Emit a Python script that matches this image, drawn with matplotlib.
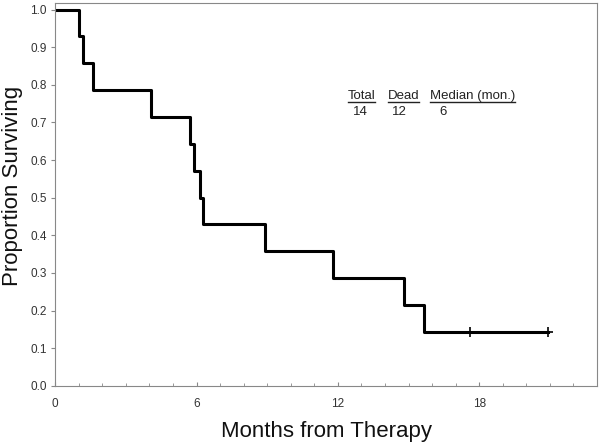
import matplotlib
matplotlib.use("Agg")
import matplotlib.pyplot as plt
from matplotlib.ticker import MultipleLocator
from matplotlib.lines import Line2D

plt.rcParams['font.family'] = ['Liberation Sans', 'DejaVu Sans']

# Kaplan-Meier step data (months, proportion surviving)
event_times = [0, 1.0, 1.2, 1.6, 4.05, 5.72, 5.88, 6.15, 6.27, 8.9, 11.8, 14.8, 15.65, 20.9]
survival = [1.0, 0.929, 0.857, 0.786, 0.714, 0.643, 0.571, 0.5, 0.429, 0.357, 0.286, 0.214, 0.143, 0.143]
censor_times = [17.6, 20.9]
censor_surv = [0.143, 0.143]

x_ticks = [0, 6, 12, 18]
y_ticks = [0.0, 0.1, 0.2, 0.3, 0.4, 0.5, 0.6, 0.7, 0.8, 0.9, 1.0]

stat_headers = ["Total", "Dead", "Median (mon.)"]
stat_values = ["14", "12", "6"]

fig = plt.figure(figsize=(6, 4.44), dpi=100)
ax = fig.add_axes([0.092, 0.131, 0.903, 0.862])

ax.step(event_times, survival, where='post', color='black', lw=2.2)
ax.plot(censor_times, censor_surv, linestyle='none', marker='+', color='black',
        markersize=7, mew=1.2)

ax.set_xlim(0, 23)
ax.set_ylim(0, 1.017)
ax.set_xticks(x_ticks)
ax.set_xticklabels([str(t) for t in x_ticks])
ax.xaxis.set_minor_locator(MultipleLocator(1))
ax.set_yticks(y_ticks)
ax.set_yticklabels([f"{v:.1f}" for v in y_ticks])

for s in ax.spines.values():
    s.set_color('#888888')
    s.set_linewidth(0.8)

ax.tick_params(axis='x', which='both', direction='in', length=3, color='#888888',
               labelsize=8.5, labelcolor='#333333', pad=9)
ax.tick_params(axis='x', which='minor', length=2)
ax.tick_params(axis='y', direction='out', length=3, color='#888888',
               labelsize=8.5, labelcolor='#333333', pad=3)

ax.set_ylabel("Proportion Surviving", fontsize=16, color='#111111')
ax.yaxis.set_label_coords(-0.059, 0.522)
ax.set_xlabel("Months from Therapy", fontsize=16, color='#111111')
ax.xaxis.set_label_coords(0.5, -0.092)

# stats table
hdr_x = [0.5795, 0.646, 0.7167]
val_x = [0.588, 0.653, 0.732]
hdr_y = 0.777
val_y = 0.741
fig.canvas.draw()
renderer = fig.canvas.get_renderer()
for hx, h in zip(hdr_x, stat_headers):
    t = fig.text(hx, hdr_y, h, fontsize=9.5, color='#222222', ha='left', va='baseline')
    bb = t.get_window_extent(renderer=renderer)
    x0, x1 = bb.x0 / fig.bbox.width, bb.x1 / fig.bbox.width
    yl = hdr_y - 3 / fig.bbox.height
    fig.add_artist(Line2D([x0, x1], [yl, yl], color='#222222', lw=1.0,
                          transform=fig.transFigure))
for vx, v in zip(val_x, stat_values):
    fig.text(vx, val_y, v, fontsize=9.5, color='#222222', ha='left', va='baseline')

fig.savefig("out.png", dpi=100)
